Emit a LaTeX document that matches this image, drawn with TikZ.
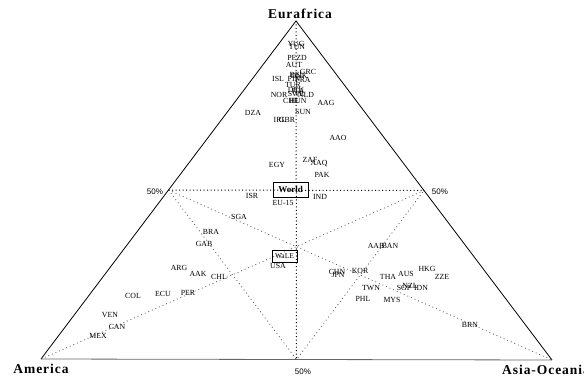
\documentclass[tikz,border=0pt]{standalone}
\usepackage{fontspec}
\setmainfont{Liberation Serif}
\newfontfamily\lsans{Liberation Sans}
\newfontfamily\polefont[LetterSpace=7]{Liberation Serif}
\usetikzlibrary{calc}
\begin{document}
\begin{tikzpicture}[x=1pt,y=-1pt,
  lab/.style={inner sep=0pt,font=\fontsize{7.8}{8}\selectfont},
  pole/.style={inner sep=0pt,font=\polefont\fontsize{13.5}{14}\selectfont\bfseries},
  pct/.style={inner sep=0pt,font=\lsans\fontsize{8}{9}\selectfont},
  edge/.style={line width=0.8pt},
  axis/.style={line width=1pt,dash pattern=on 1pt off 2.5pt},
  guide/.style={line width=0.8pt,black!65,dash pattern=on 0.9pt off 3pt},
  boxed/.style={draw,line width=0.6pt,inner sep=0pt}]
\useasboundingbox (0,0) rectangle (584,377);
\coordinate (A) at (41,359);
\coordinate (B) at (552,360);
\coordinate (C) at (296,21);
\coordinate (mAC) at ($(A)!0.5!(C)$);
\coordinate (mBC) at ($(B)!0.5!(C)$);
\coordinate (mAB) at ($(A)!0.5!(B)$);
% guide lines
\draw[guide] (mAC) -- (B);
\draw[guide] (mBC) -- (A);
\draw[guide] (mAC) -- (mAB) -- (mBC);
\draw[axis] (mAC) -- (mBC);
\draw[axis] (C) -- (mAB);
% triangle
\draw[edge] (A) -- (C) -- (B);
\draw[edge,black!60] (A) -- (B);
% poles
\node[pole,anchor=base] (eur) at (300,19) {Eurafrica};
\node[pole,anchor=base] (ame) at (41,373) {America};
\node[pole,anchor=base west] (asi) at (502,374) {Asia-Oceania};
\node[pct] (p1) at (155,192) {50\%};
\node[pct] (p2) at (440,192) {50\%};
\node[pct,anchor=base] (p3) at (303,374) {50\%};
% boxes
\node[boxed,minimum width=35pt,minimum height=15pt,font=\fontsize{9}{10}\selectfont\bfseries] (world) at (290.5,189.5) {World};
\node[boxed,minimum width=25pt,minimum height=12pt,font=\fontsize{7.5}{8}\selectfont] (wale) at (284.5,256) {WaLE};
% countries
\node[lab] (yug) at (296,44) {YUG};
\node[lab] (tun) at (297,47) {TUN};
\node[lab] (pezd) at (297,58) {PEZD};
\node[lab] (aut) at (294,65) {AUT};
\node[lab] (grc) at (308,72) {GRC};
\node[lab] (bel) at (297,75) {BEL};
\node[lab] (dnk) at (299,76) {DNK};
\node[lab] (isl) at (278,79) {ISL};
\node[lab] (fin) at (294,79) {FIN};
\node[lab] (fra) at (303,80) {FRA};
\node[lab] (tur) at (293,85) {TUR};
\node[lab] (deu) at (296,90) {DEU};
\node[lab] (ita) at (298,91) {ITA};
\node[lab] (nor) at (279,95) {NOR};
\node[lab] (swe) at (296,94) {SWE};
\node[lab] (nld) at (306,95) {NLD};
\node[lab] (che) at (291,101) {CHE};
\node[lab] (hun) at (298,101) {HUN};
\node[lab] (aag) at (326,103) {AAG};
\node[lab] (sun) at (303,112) {SUN};
\node[lab] (dza) at (253,113) {DZA};
\node[lab] (irl) at (280,120) {IRL};
\node[lab] (gbr) at (287,120) {GBR};
\node[lab] (aao) at (338,138) {AAO};
\node[lab] (egy) at (277,165) {EGY};
\node[lab] (zaf) at (310,160) {ZAF};
\node[lab] (aaq) at (319,164) {AAQ};
\node[lab] (pak) at (322,175) {PAK};
\node[lab] (isr) at (252,196) {ISR};
\node[lab] (ind) at (320,197) {IND};
\node[lab] (eu) at (283,203) {EU-15};
\node[lab] (sga) at (239,217) {SGA};
\node[lab] (bra) at (211,232) {BRA};
\node[lab] (gab) at (204,244) {GAB};
\node[lab] (usa) at (278,266) {USA};
\node[lab] (arg) at (179,268) {ARG};
\node[lab] (aak) at (198,274) {AAK};
\node[lab] (chl) at (219,277) {CHL};
\node[lab] (aab) at (376,246) {AAB};
\node[lab] (ban) at (390,246) {BAN};
\node[lab] (chn) at (337,272) {CHN};
\node[lab] (jpn) at (338,275) {JPN};
\node[lab] (kor) at (360,271) {KOR};
\node[lab] (tha) at (388,277) {THA};
\node[lab] (aus) at (406,274) {AUS};
\node[lab] (hkg) at (427,269) {HKG};
\node[lab] (zze) at (442,277) {ZZE};
\node[lab] (twn) at (371,288) {TWN};
\node[lab] (sgp) at (404,288) {SGP};
\node[lab] (nzl) at (410,286) {NZL};
\node[lab] (idn) at (421,288) {IDN};
\node[lab] (phl) at (363,299) {PHL};
\node[lab] (mys) at (392,300) {MYS};
\node[lab] (brn) at (470,325) {BRN};
\node[lab] (col) at (133,296) {COL};
\node[lab] (ecu) at (163,294) {ECU};
\node[lab] (per) at (188,293) {PER};
\node[lab] (ven) at (110,315) {VEN};
\node[lab] (can) at (117,327) {CAN};
\node[lab] (mex) at (98,336) {MEX};
\end{tikzpicture}
\end{document}
